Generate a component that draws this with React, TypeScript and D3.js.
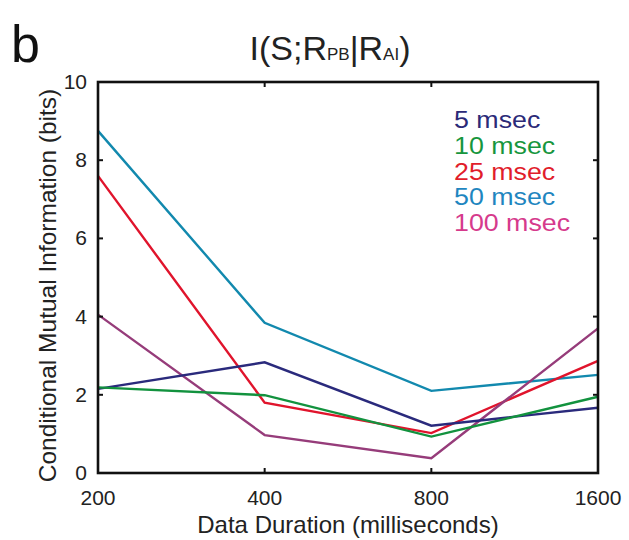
import React from "react";
import * as d3 from "d3";

const durations = [200, 400, 800, 1600];
const seriesNames = ["5 msec", "10 msec", "25 msec", "50 msec", "100 msec"];
const v5 = [2.15, 2.83, 1.21, 1.67];
const v10 = [2.19, 1.99, 0.93, 1.95];
const v25 = [7.6, 1.8, 1.02, 2.87];
const v50 = [8.75, 3.84, 2.1, 2.51];
const v100 = [4.05, 0.97, 0.38, 3.7];
const lineColors = ["#2a2a7c", "#12923e", "#e0142c", "#1289ae", "#963c7a"];
const textColors = ["#2b2a78", "#17963e", "#e11d2b", "#1f86c0", "#d63a8c"];
const yTicks = [0, 2, 4, 6, 8, 10];

const FONT = "'Liberation Sans', Arial, Helvetica, sans-serif";

export default function App() {
  const W = 629, H = 540;
  const left = 98, right = 598, top = 82, bottom = 473;
  const x = d3.scaleLog().domain([200, 1600]).range([left, right]);
  const y = d3.scaleLinear().domain([0, 10]).range([bottom, top]);
  const all = [v5, v10, v25, v50, v100];
  const order = [3, 2, 4, 0, 1];
  const line = d3
    .line<number>()
    .x((_, i) => x(durations[i]))
    .y((d) => y(d));
  const tl = 5;
  const sx = 1.14;
  return (
    <svg width={W} height={H} style={{ position: "absolute", left: 0, top: 0 }} fontFamily={FONT}>
      <rect x={0} y={0} width={W} height={H} fill="#fff" />
      <text x={11} y={62} fontSize={52} fill="#111">b</text>
      <text x={330} y={60} fontSize={34} textAnchor="middle" fill="#222">
        I(S;R<tspan fontSize={17}>PB</tspan>|R<tspan fontSize={17}>AI</tspan>)
      </text>
      {order.map((k) => (
        <path key={k} d={line(all[k]) || ""} fill="none" stroke={lineColors[k]} strokeWidth={2.4} />
      ))}
      <rect x={left} y={top} width={right - left} height={bottom - top} fill="none" stroke="#111" strokeWidth={2.6} />
      {yTicks.map((t) => (
        <g key={t}>
          <line x1={left} x2={left + tl} y1={y(t)} y2={y(t)} stroke="#111" strokeWidth={2} />
          <line x1={right} x2={right - tl} y1={y(t)} y2={y(t)} stroke="#111" strokeWidth={2} />
          <text x={87} y={y(t) + 7} fontSize={21} textAnchor="end" fill="#222">{t}</text>
        </g>
      ))}
      {durations.map((d) => (
        <g key={d}>
          <line x1={x(d)} x2={x(d)} y1={bottom} y2={bottom - tl} stroke="#111" strokeWidth={2} />
          <line x1={x(d)} x2={x(d)} y1={top} y2={top + tl} stroke="#111" strokeWidth={2} />
          <text x={x(d)} y={505} fontSize={21} textAnchor="middle" fill="#222">{d}</text>
        </g>
      ))}
      <text x={348} y={533} fontSize={24} textAnchor="middle" fill="#222">Data Duration (milliseconds)</text>
      <text transform={`translate(56,${(top + bottom) / 2 + 8}) rotate(-90)`} fontSize={24.5} textAnchor="middle" fill="#222">
        Conditional Mutual Information (bits)
      </text>
      {seriesNames.map((n, i) => (
        <text
          key={n}
          transform={`translate(454,${128 + i * 25.8}) scale(${sx},1)`}
          fontSize={23.5}
          fill={textColors[i]}
        >
          {n}
        </text>
      ))}
    </svg>
  );
}
